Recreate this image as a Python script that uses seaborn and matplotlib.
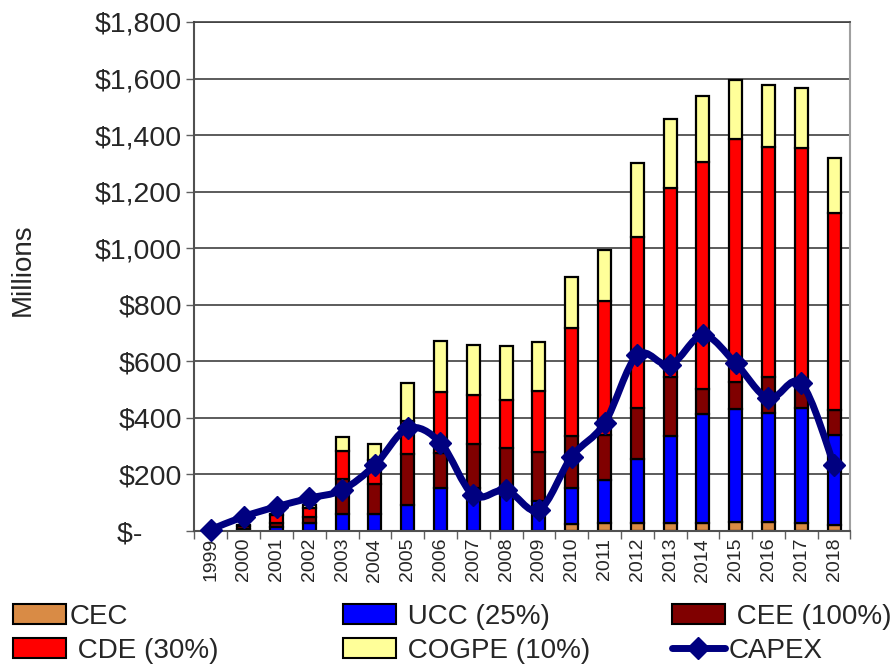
import numpy as np
import pandas as pd
import matplotlib
matplotlib.use("Agg")
import matplotlib.pyplot as plt
import seaborn as sns
from matplotlib.path import Path
from matplotlib.patches import PathPatch, Patch
from matplotlib.lines import Line2D
from matplotlib.ticker import FuncFormatter

# Annual capital spending by company, $ millions
years = [str(y) for y in range(1999, 2019)]
cec = [0, 0, 0, 0, 0, 0, 0, 0, 0, 0, 0, 26, 28, 28, 28, 30, 33, 33, 30, 22]
ucc = [0, 8, 15, 30, 61, 61, 92, 151, 153, 145, 106, 127, 152, 226, 308, 383, 398, 385, 405, 316]
cee = [0, 8, 15, 18, 123, 106, 179, 126, 153, 150, 174, 184, 159, 181, 209, 88, 96, 125, 81, 90]
cde = [0, 4, 25, 35, 100, 85, 118, 215, 174, 170, 215, 380, 474, 604, 668, 805, 858, 816, 838, 696]
cogpe = [0, 0, 5, 10, 47, 55, 133, 180, 176, 190, 173, 183, 179, 262, 245, 232, 211, 218, 212, 194]
capex = [5, 51, 86, 116, 145, 233, 363, 312, 127, 145, 74, 263, 381, 622, 587, 692, 593, 469, 522, 233]

series_names = ["CEC", " UCC (25%)", " CEE (100%)", " CDE (30%)", " COGPE (10%)"]
series_vals = [cec, ucc, cee, cde, cogpe]
series_colors = ["#D98B45", "#0000FF", "#800000", "#FF0000", "#FFFF99"]
line_name = "CAPEX"
line_color = "#000080"

sns.set_style("white")
plt.rcParams["font.family"] = ["Liberation Sans", "DejaVu Sans"]

fig = plt.figure(figsize=(8.95, 6.66), dpi=100)
ax = fig.add_axes([194.5 / 895, 1 - 531 / 666, (850.5 - 194.5) / 895, (531 - 22) / 666])

# stacked bars
bottom = np.zeros(len(years))
for name, vals, col in zip(series_names, series_vals, series_colors):
    sns.barplot(x=years, y=vals, bottom=bottom.copy(), color=col, saturation=1,
                width=0.4, edgecolor="black", linewidth=1.6, ax=ax, zorder=2)
    bottom += np.array(vals, dtype=float)

# smoothed CAPEX line (Catmull-Rom as cubic Bezier segments)
xs = np.arange(len(years), dtype=float)
ys = np.array(capex, dtype=float)
n = len(xs)
verts = [(xs[0], ys[0])]
codes = [Path.MOVETO]
for i in range(n - 1):
    i0, i2 = max(i - 1, 0), min(i + 2, n - 1)
    c1 = (xs[i] + (xs[i + 1] - xs[i0]) / 6, ys[i] + (ys[i + 1] - ys[i0]) / 6)
    c2 = (xs[i + 1] - (xs[i2] - xs[i]) / 6, ys[i + 1] - (ys[i2] - ys[i]) / 6)
    verts += [c1, c2, (xs[i + 1], ys[i + 1])]
    codes += [Path.CURVE4] * 3
ax.add_patch(PathPatch(Path(verts, codes), facecolor="none", edgecolor=line_color,
                       lw=5, capstyle="round", joinstyle="round", zorder=4))
ax.plot(xs, ys, ls="none", marker="D", ms=11.5, mew=1, color=line_color,
        zorder=5, clip_on=False)

ax.set_xlim(-0.5, len(years) - 0.5)
ax.set_ylim(0, 1800)
ax.set_yticks(np.arange(0, 1801, 200))
ax.yaxis.set_major_formatter(FuncFormatter(lambda v, p: "$-     " if v == 0 else f"${v:,.0f}"))
ax.tick_params(axis="y", labelsize=20.5, length=6, width=1, color="#606060", pad=3, left=True)
ax.set_xticks(xs)
ax.set_xticklabels(years, rotation=90, fontsize=14)
ax.set_xticks(np.arange(-0.5, len(years), 1), minor=True)
ax.tick_params(axis="x", which="major", length=0, pad=5)
ax.tick_params(axis="x", which="minor", length=6, width=1, color="#606060", bottom=True)
ax.set_xlabel("")
ax.yaxis.grid(True, color="#404040", lw=1.2, zorder=0)
ax.set_axisbelow(True)
for side in ["left", "bottom"]:
    ax.spines[side].set_color("#505050")
    ax.spines[side].set_linewidth(1.5)
ax.spines["right"].set_color("#a0a0a0")
ax.spines["right"].set_linewidth(1.5)
ax.spines["top"].set_color("#404040")
ax.spines["top"].set_linewidth(1.2)

ax.set_ylabel("Millions", fontsize=20)
ax.yaxis.set_label_coords(-0.2416, 0.513)

# legend, three columns of two entries
def patch(c):
    return Patch(facecolor=c, edgecolor="black", linewidth=1.5)

legend_font = {"family": ["Liberation Sans Narrow", "Liberation Sans"], "size": 20}
cols = [
    ([patch(series_colors[0]), patch(series_colors[3])], [series_names[0], series_names[3]], 13),
    ([patch(series_colors[1]), patch(series_colors[4])], [series_names[1], series_names[4]], 343),
    ([patch(series_colors[2]), Line2D([], [], color=line_color, lw=5, marker="D", ms=11, mew=1)],
     [series_names[2], line_name], 672),
]
for handles, labels, xpix in cols:
    fig.legend(handles, labels, loc="upper left", bbox_to_anchor=(xpix / 895, 1 - 604 / 666),
               frameon=False, prop=legend_font, borderpad=0, borderaxespad=0,
               handlelength=1.9, handleheight=0.72, handletextpad=0.15, labelspacing=0.28)

fig.savefig("out.png", dpi=100)
